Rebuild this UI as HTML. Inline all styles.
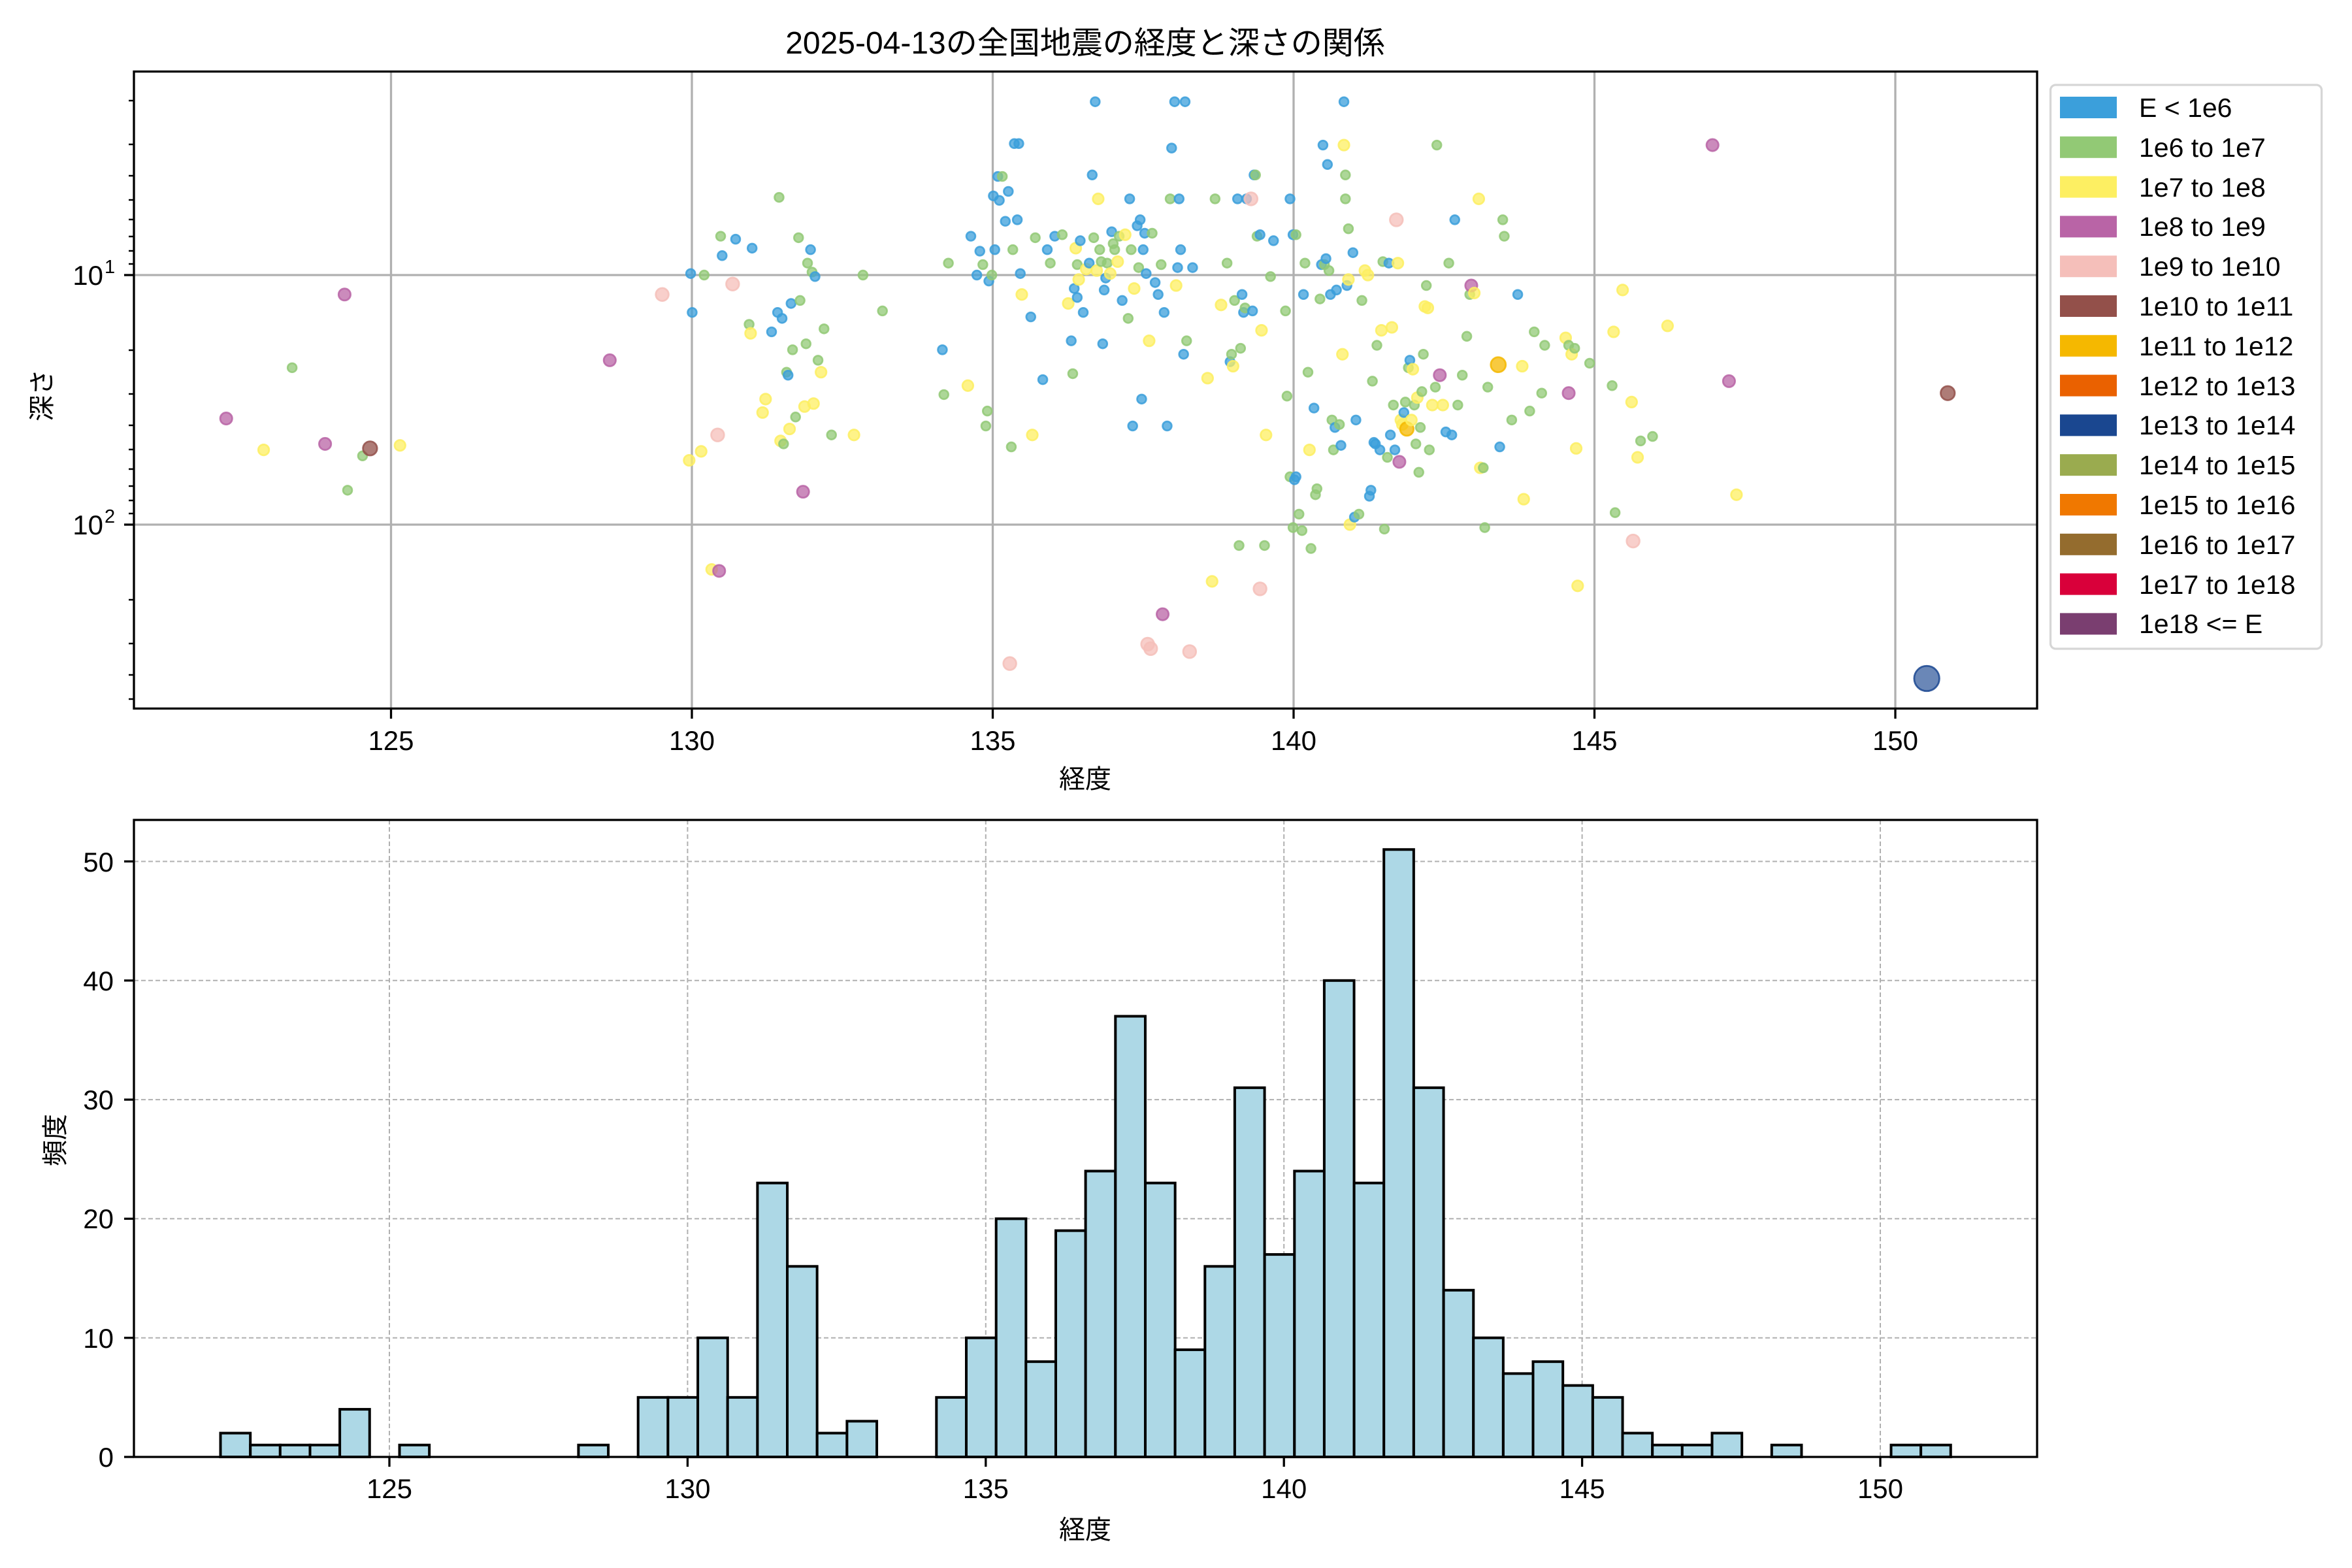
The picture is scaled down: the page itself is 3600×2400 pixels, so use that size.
<!DOCTYPE html>
<html><head><meta charset="utf-8"><style>
html,body{margin:0;padding:0;background:#fff;}
svg{display:block;}
text{font-family:"Liberation Sans","Noto Sans CJK JP",sans-serif;fill:#000;}
.b{fill:#3B9FDB;stroke:#3B9FDB}.g{fill:#92C975;stroke:#92C975}.y{fill:#FDEF62;stroke:#FDEF62}
.p{fill:#B964A6;stroke:#B964A6}.k{fill:#F5BFBA;stroke:#F5BFBA}.r{fill:#93504A;stroke:#93504A}
.a{fill:#F5B800;stroke:#F5B800}.n{fill:#1A4790;stroke:#1A4790}
</style></head><body>
<svg width="3600" height="2400" viewBox="0 0 3600 2400" xmlns="http://www.w3.org/2000/svg">
<rect width="3600" height="2400" fill="#fff"/>
<text x="1661" y="82" font-size="48" text-anchor="middle">2025-04-13の全国地震の経度と深さの関係</text>
<g stroke="#b0b0b0" stroke-width="3.3">
<line x1="598.5" y1="109" x2="598.5" y2="1085"/><line x1="1059" y1="109" x2="1059" y2="1085"/>
<line x1="1519.5" y1="109" x2="1519.5" y2="1085"/><line x1="1980" y1="109" x2="1980" y2="1085"/>
<line x1="2440.5" y1="109" x2="2440.5" y2="1085"/><line x1="2901" y1="109" x2="2901" y2="1085"/>
<line x1="205" y1="421" x2="3118" y2="421"/><line x1="205" y1="803" x2="3118" y2="803"/>
</g>
<g transform="matrix(2.2933 0 0 2.287 2.24 2.5)" fill-opacity="0.75" stroke-opacity="0.85" stroke-width="1.2">
<circle class="p" cx="150" cy="279" r="4"/><circle class="y" cx="175" cy="300" r="3.6"/><circle class="g" cx="194" cy="245" r="3"/>
<circle class="p" cx="216" cy="296" r="4"/><circle class="p" cx="229" cy="196" r="4"/><circle class="g" cx="231" cy="327" r="3"/>
<circle class="g" cx="241" cy="304" r="3"/><circle class="r" cx="246" cy="299" r="4.7"/><circle class="y" cx="266" cy="297" r="3.6"/>
<circle class="p" cx="406" cy="240" r="4"/><circle class="k" cx="441" cy="196" r="4.3"/><circle class="y" cx="459" cy="307" r="3.6"/>
<circle class="b" cx="460" cy="182" r="3"/><circle class="b" cx="461" cy="208" r="3"/><circle class="y" cx="467" cy="301" r="3.6"/>
<circle class="g" cx="469" cy="183" r="3"/><circle class="y" cx="474" cy="380" r="3.6"/><circle class="k" cx="478" cy="290" r="4.3"/>
<circle class="p" cx="479" cy="381" r="4"/><circle class="g" cx="480" cy="157" r="3"/><circle class="b" cx="481" cy="170" r="3"/>
<circle class="k" cx="488" cy="189" r="4.3"/><circle class="b" cx="490" cy="159" r="3"/><circle class="g" cx="499" cy="216" r="3"/>
<circle class="y" cx="500" cy="222" r="3.6"/><circle class="b" cx="501" cy="165" r="3"/><circle class="y" cx="508" cy="275" r="3.6"/>
<circle class="y" cx="510" cy="266" r="3.6"/><circle class="b" cx="514" cy="221" r="3"/><circle class="b" cx="518" cy="208" r="3"/>
<circle class="g" cx="519" cy="131" r="3"/><circle class="y" cx="520" cy="294" r="3.6"/><circle class="b" cx="521" cy="212" r="3"/>
<circle class="g" cx="522" cy="296" r="3"/><circle class="g" cx="524" cy="248" r="3"/><circle class="b" cx="525" cy="250" r="3"/>
<circle class="y" cx="526" cy="286" r="3.6"/><circle class="b" cx="527" cy="202" r="3"/><circle class="g" cx="528" cy="233" r="3"/>
<circle class="g" cx="530" cy="278" r="3"/><circle class="g" cx="532" cy="158" r="3"/><circle class="g" cx="533" cy="200" r="3"/>
<circle class="p" cx="535" cy="328" r="4"/><circle class="y" cx="536" cy="271" r="3.6"/><circle class="g" cx="537" cy="229" r="3"/>
<circle class="g" cx="538" cy="175" r="3"/><circle class="b" cx="540" cy="166" r="3"/><circle class="g" cx="541" cy="181" r="3"/>
<circle class="y" cx="542" cy="269" r="3.6"/><circle class="b" cx="543" cy="184" r="3"/><circle class="g" cx="545" cy="240" r="3"/>
<circle class="y" cx="547" cy="248" r="3.6"/><circle class="g" cx="549" cy="219" r="3"/><circle class="g" cx="554" cy="290" r="3"/>
<circle class="y" cx="569" cy="290" r="3.6"/><circle class="g" cx="575" cy="183" r="3"/><circle class="g" cx="588" cy="207" r="3"/>
<circle class="b" cx="628" cy="233" r="3"/><circle class="g" cx="629" cy="263" r="3"/><circle class="g" cx="632" cy="175" r="3"/>
<circle class="y" cx="645" cy="257" r="3.6"/><circle class="b" cx="647" cy="157" r="3"/><circle class="b" cx="651" cy="183" r="3"/>
<circle class="b" cx="653" cy="167" r="3"/><circle class="g" cx="655" cy="176" r="3"/><circle class="g" cx="657" cy="284" r="3"/>
<circle class="g" cx="658" cy="274" r="3"/><circle class="b" cx="659" cy="187" r="3"/><circle class="g" cx="661" cy="183" r="3"/>
<circle class="b" cx="662" cy="130" r="3"/><circle class="b" cx="663" cy="166" r="3"/><circle class="b" cx="665" cy="117" r="3"/>
<circle class="b" cx="666" cy="133" r="3"/><circle class="g" cx="668" cy="117" r="3"/><circle class="b" cx="670" cy="147" r="3"/>
<circle class="b" cx="672" cy="127" r="3"/><circle class="k" cx="673" cy="443" r="4.3"/><circle class="g" cx="674" cy="298" r="3"/>
<circle class="g" cx="675" cy="166" r="3"/><circle class="b" cx="676" cy="95" r="3"/><circle class="b" cx="678" cy="146" r="3"/>
<circle class="b" cx="679" cy="95" r="3"/><circle class="b" cx="680" cy="182" r="3"/><circle class="y" cx="681" cy="196" r="3.6"/>
<circle class="b" cx="687" cy="211" r="3"/><circle class="y" cx="688" cy="290" r="3.6"/><circle class="g" cx="690" cy="158" r="3"/>
<circle class="b" cx="695" cy="253" r="3"/><circle class="b" cx="698" cy="166" r="3"/><circle class="g" cx="700" cy="175" r="3"/>
<circle class="b" cx="703" cy="157" r="3"/><circle class="g" cx="708" cy="156" r="3"/><circle class="y" cx="712" cy="202" r="3.6"/>
<circle class="b" cx="714" cy="227" r="3"/><circle class="g" cx="715" cy="249" r="3"/><circle class="b" cx="716" cy="192" r="3"/>
<circle class="y" cx="717" cy="165" r="3.6"/><circle class="g" cx="718" cy="176" r="3"/><circle class="b" cx="718" cy="198" r="3"/>
<circle class="y" cx="719" cy="186" r="3.6"/><circle class="b" cx="720" cy="160" r="3"/><circle class="b" cx="722" cy="208" r="3"/>
<circle class="y" cx="724" cy="179" r="3.6"/><circle class="b" cx="726" cy="175" r="3"/><circle class="b" cx="728" cy="116" r="3"/>
<circle class="g" cx="729" cy="158" r="3"/><circle class="b" cx="730" cy="67" r="3"/><circle class="y" cx="731" cy="180" r="3.6"/>
<circle class="y" cx="732" cy="132" r="3.6"/><circle class="g" cx="733" cy="166" r="3"/><circle class="g" cx="734" cy="174" r="3"/>
<circle class="b" cx="735" cy="229" r="3"/><circle class="b" cx="736" cy="193" r="3"/><circle class="b" cx="737" cy="185" r="3"/>
<circle class="g" cx="738" cy="175" r="3"/><circle class="y" cx="740" cy="182" r="3.6"/><circle class="b" cx="741" cy="154" r="3"/>
<circle class="g" cx="742" cy="162" r="3"/><circle class="g" cx="743" cy="166" r="3"/><circle class="y" cx="745" cy="174" r="3.6"/>
<circle class="g" cx="746" cy="157" r="3"/><circle class="b" cx="748" cy="200" r="3"/><circle class="y" cx="750" cy="156" r="3.6"/>
<circle class="g" cx="752" cy="212" r="3"/><circle class="b" cx="753" cy="132" r="3"/><circle class="g" cx="754" cy="166" r="3"/>
<circle class="b" cx="755" cy="284" r="3"/><circle class="y" cx="756" cy="192" r="3.6"/><circle class="b" cx="758" cy="150" r="3"/>
<circle class="g" cx="759" cy="178" r="3"/><circle class="b" cx="760" cy="146" r="3"/><circle class="b" cx="761" cy="266" r="3"/>
<circle class="b" cx="762" cy="166" r="3"/><circle class="b" cx="763" cy="155" r="3"/><circle class="b" cx="764" cy="182" r="3"/>
<circle class="k" cx="765" cy="430" r="4.3"/><circle class="y" cx="766" cy="227" r="3.6"/><circle class="k" cx="767" cy="433" r="4.3"/>
<circle class="g" cx="768" cy="155" r="3"/><circle class="b" cx="770" cy="188" r="3"/><circle class="b" cx="772" cy="196" r="3"/>
<circle class="g" cx="774" cy="176" r="3"/><circle class="p" cx="775" cy="410" r="4"/><circle class="b" cx="776" cy="208" r="3"/>
<circle class="b" cx="778" cy="284" r="3"/><circle class="g" cx="780" cy="132" r="3"/><circle class="b" cx="781" cy="98" r="3"/>
<circle class="b" cx="783" cy="67" r="3"/><circle class="y" cx="784" cy="190" r="3.6"/><circle class="b" cx="785" cy="178" r="3"/>
<circle class="b" cx="786" cy="132" r="3"/><circle class="b" cx="787" cy="166" r="3"/><circle class="b" cx="789" cy="236" r="3"/>
<circle class="b" cx="790" cy="67" r="3"/><circle class="g" cx="791" cy="227" r="3"/><circle class="k" cx="793" cy="435" r="4.3"/>
<circle class="b" cx="795" cy="178" r="3"/><circle class="y" cx="805" cy="252" r="3.6"/><circle class="y" cx="808" cy="388" r="3.6"/>
<circle class="g" cx="810" cy="132" r="3"/><circle class="y" cx="814" cy="203" r="3.6"/><circle class="g" cx="818" cy="175" r="3"/>
<circle class="b" cx="820" cy="241" r="3"/><circle class="g" cx="821" cy="236" r="3"/><circle class="y" cx="822" cy="244" r="3.6"/>
<circle class="g" cx="823" cy="200" r="3"/><circle class="b" cx="825" cy="132" r="3"/><circle class="g" cx="826" cy="364" r="3"/>
<circle class="g" cx="827" cy="232" r="3"/><circle class="b" cx="828" cy="196" r="3"/><circle class="b" cx="829" cy="208" r="3"/>
<circle class="g" cx="830" cy="205" r="3"/><circle class="b" cx="831" cy="132" r="3"/><circle class="k" cx="834" cy="132" r="4.3"/>
<circle class="b" cx="835" cy="207" r="3"/><circle class="b" cx="836" cy="116" r="3"/><circle class="g" cx="837" cy="116" r="3"/>
<circle class="g" cx="838" cy="157" r="3"/><circle class="b" cx="840" cy="156" r="3"/><circle class="y" cx="841" cy="220" r="3.6"/>
<circle class="g" cx="843" cy="364" r="3"/><circle class="y" cx="844" cy="290" r="3.6"/><circle class="k" cx="840" cy="393" r="4.3"/>
<circle class="g" cx="847" cy="184" r="3"/><circle class="b" cx="849" cy="160" r="3"/><circle class="b" cx="860" cy="132" r="3"/>
<circle class="b" cx="862" cy="156" r="3"/><circle class="g" cx="864" cy="156" r="3"/><circle class="g" cx="857" cy="207" r="3"/>
<circle class="g" cx="858" cy="264" r="3"/><circle class="g" cx="860" cy="318" r="3"/>
<circle class="g" cx="862" cy="352" r="3"/><circle class="b" cx="863" cy="320" r="3"/><circle class="b" cx="864" cy="318" r="3"/>
<circle class="g" cx="866" cy="343" r="3"/><circle class="g" cx="868" cy="354" r="3"/><circle class="b" cx="869" cy="196" r="3"/>
<circle class="g" cx="870" cy="175" r="3"/><circle class="g" cx="872" cy="248" r="3"/><circle class="y" cx="873" cy="300" r="3.6"/>
<circle class="g" cx="874" cy="366" r="3"/><circle class="b" cx="876" cy="272" r="3"/><circle class="g" cx="877" cy="330" r="3"/>
<circle class="g" cx="878" cy="326" r="3"/><circle class="g" cx="880" cy="199" r="3"/><circle class="b" cx="881" cy="176" r="3"/>
<circle class="b" cx="882" cy="96" r="3"/><circle class="g" cx="883" cy="176" r="3"/><circle class="b" cx="884" cy="172" r="3"/>
<circle class="b" cx="885" cy="109" r="3"/><circle class="g" cx="886" cy="180" r="3"/><circle class="b" cx="887" cy="196" r="3"/>
<circle class="g" cx="888" cy="280" r="3"/><circle class="g" cx="889" cy="300" r="3"/><circle class="b" cx="890" cy="285" r="3"/>
<circle class="b" cx="891" cy="193" r="3"/><circle class="g" cx="893" cy="283" r="3"/><circle class="b" cx="894" cy="297" r="3"/>
<circle class="y" cx="895" cy="236" r="3.6"/><circle class="b" cx="896" cy="67" r="3"/><circle class="y" cx="896" cy="96" r="3.6"/>
<circle class="g" cx="897" cy="132" r="3"/><circle class="g" cx="897" cy="116" r="3"/><circle class="b" cx="898" cy="190" r="3"/>
<circle class="g" cx="899" cy="152" r="3"/><circle class="y" cx="899" cy="186" r="3.6"/><circle class="y" cx="900" cy="350" r="3.6"/>
<circle class="b" cx="902" cy="168" r="3"/><circle class="b" cx="903" cy="345" r="3"/><circle class="b" cx="904" cy="280" r="3"/>
<circle class="g" cx="906" cy="343" r="3"/><circle class="g" cx="908" cy="200" r="3"/><circle class="y" cx="910" cy="180" r="3.6"/>
<circle class="y" cx="912" cy="183" r="3.6"/><circle class="b" cx="913" cy="331" r="3"/><circle class="b" cx="914" cy="327" r="3"/>
<circle class="g" cx="915" cy="254" r="3"/><circle class="b" cx="916" cy="295" r="3"/><circle class="b" cx="917" cy="296" r="3"/>
<circle class="g" cx="918" cy="230" r="3"/><circle class="b" cx="920" cy="300" r="3"/><circle class="y" cx="921" cy="220" r="3.6"/>
<circle class="g" cx="922" cy="174" r="3"/><circle class="g" cx="923" cy="353" r="3"/><circle class="g" cx="925" cy="305" r="3"/>
<circle class="b" cx="926" cy="175" r="3"/><circle class="b" cx="927" cy="290" r="3"/><circle class="y" cx="928" cy="218" r="3.6"/>
<circle class="g" cx="929" cy="270" r="3"/><circle class="b" cx="930" cy="300" r="3"/><circle class="k" cx="931" cy="146" r="4.3"/>
<circle class="y" cx="932" cy="175" r="3.6"/><circle class="p" cx="933" cy="308" r="4"/><circle class="y" cx="934" cy="280" r="3.6"/>
<circle class="y" cx="935" cy="283" r="3.6"/><circle class="b" cx="936" cy="275" r="3"/><circle class="g" cx="937" cy="268" r="3"/>
<circle class="a" cx="938" cy="286" r="4.5"/><circle class="g" cx="939" cy="245" r="3"/><circle class="b" cx="940" cy="240" r="3"/>
<circle class="y" cx="941" cy="280" r="3.6"/><circle class="y" cx="942" cy="246" r="3.6"/><circle class="g" cx="943" cy="270" r="3"/>
<circle class="g" cx="944" cy="296" r="3"/><circle class="y" cx="945" cy="265" r="3.6"/><circle class="g" cx="946" cy="315" r="3"/>
<circle class="g" cx="947" cy="285" r="3"/><circle class="g" cx="948" cy="261" r="3"/><circle class="g" cx="949" cy="236" r="3"/>
<circle class="y" cx="950" cy="204" r="3.6"/><circle class="g" cx="951" cy="190" r="3"/><circle class="y" cx="952" cy="205" r="3.6"/>
<circle class="g" cx="953" cy="300" r="3"/><circle class="y" cx="955" cy="270" r="3.6"/><circle class="g" cx="957" cy="258" r="3"/>
<circle class="g" cx="958" cy="96" r="3"/><circle class="p" cx="960" cy="250" r="4"/><circle class="y" cx="962" cy="270" r="3.6"/>
<circle class="b" cx="964" cy="288" r="3"/><circle class="g" cx="966" cy="175" r="3"/><circle class="b" cx="968" cy="290" r="3"/>
<circle class="b" cx="970" cy="146" r="3"/><circle class="g" cx="972" cy="270" r="3"/><circle class="g" cx="975" cy="250" r="3"/>
<circle class="g" cx="978" cy="224" r="3"/><circle class="g" cx="980" cy="196" r="3"/><circle class="p" cx="981" cy="190" r="4"/>
<circle class="y" cx="983" cy="195" r="3.6"/><circle class="y" cx="986" cy="132" r="3.6"/><circle class="y" cx="987" cy="312" r="3.6"/>
<circle class="g" cx="989" cy="312" r="3"/><circle class="g" cx="990" cy="352" r="3"/><circle class="g" cx="992" cy="258" r="3"/>
<circle class="a" cx="999" cy="243" r="5"/><circle class="b" cx="1000" cy="298" r="3"/><circle class="g" cx="1002" cy="146" r="3"/>
<circle class="g" cx="1003" cy="157" r="3"/><circle class="g" cx="1008" cy="280" r="3"/><circle class="b" cx="1012" cy="196" r="3"/>
<circle class="y" cx="1015" cy="244" r="3.6"/><circle class="y" cx="1016" cy="333" r="3.6"/><circle class="g" cx="1020" cy="274" r="3"/>
<circle class="g" cx="1023" cy="221" r="3"/><circle class="g" cx="1028" cy="262" r="3"/><circle class="g" cx="1030" cy="230" r="3"/>
<circle class="p" cx="1046" cy="262" r="4"/><circle class="y" cx="1044" cy="225" r="3.6"/><circle class="g" cx="1046" cy="230" r="3"/>
<circle class="y" cx="1048" cy="236" r="3.6"/><circle class="g" cx="1050" cy="232" r="3"/><circle class="y" cx="1051" cy="299" r="3.6"/>
<circle class="y" cx="1052" cy="391" r="3.6"/><circle class="g" cx="1060" cy="242" r="3"/><circle class="g" cx="1075" cy="257" r="3"/>
<circle class="y" cx="1076" cy="221" r="3.6"/><circle class="g" cx="1077" cy="342" r="3"/><circle class="y" cx="1082" cy="193" r="3.6"/>
<circle class="y" cx="1088" cy="268" r="3.6"/><circle class="k" cx="1089" cy="361" r="4.3"/><circle class="y" cx="1092" cy="305" r="3.6"/>
<circle class="g" cx="1094" cy="294" r="3"/><circle class="g" cx="1102" cy="291" r="3"/><circle class="y" cx="1112" cy="217" r="3.6"/>
<circle class="p" cx="1142" cy="96" r="4"/><circle class="p" cx="1153" cy="254" r="4"/><circle class="y" cx="1158" cy="330" r="3.6"/>
<circle class="r" cx="1299" cy="262" r="4.7"/><circle class="n" cx="1285" cy="453" r="8.4" fill-opacity="0.65"/>
</g>
<rect x="205" y="109.5" width="2913" height="975" fill="none" stroke="#000" stroke-width="3.3"/>
<g stroke="#000" stroke-width="3.3">
<line x1="598.5" y1="1085" x2="598.5" y2="1100"/><line x1="1059" y1="1085" x2="1059" y2="1100"/>
<line x1="1519.5" y1="1085" x2="1519.5" y2="1100"/><line x1="1980" y1="1085" x2="1980" y2="1100"/>
<line x1="2440.5" y1="1085" x2="2440.5" y2="1100"/><line x1="2901" y1="1085" x2="2901" y2="1100"/>
<line x1="190" y1="421" x2="205" y2="421"/><line x1="190" y1="803" x2="205" y2="803"/>
</g>
<g stroke="#000" stroke-width="2.5">
<line x1="197" y1="154" x2="205" y2="154"/><line x1="197" y1="221" x2="205" y2="221"/><line x1="197" y1="269" x2="205" y2="269"/>
<line x1="197" y1="306" x2="205" y2="306"/><line x1="197" y1="336" x2="205" y2="336"/><line x1="197" y1="362" x2="205" y2="362"/>
<line x1="197" y1="384" x2="205" y2="384"/><line x1="197" y1="404" x2="205" y2="404"/>
<line x1="197" y1="536" x2="205" y2="536"/><line x1="197" y1="603" x2="205" y2="603"/><line x1="197" y1="651" x2="205" y2="651"/>
<line x1="197" y1="688" x2="205" y2="688"/><line x1="197" y1="718" x2="205" y2="718"/><line x1="197" y1="744" x2="205" y2="744"/>
<line x1="197" y1="766" x2="205" y2="766"/><line x1="197" y1="786" x2="205" y2="786"/>
<line x1="197" y1="918" x2="205" y2="918"/><line x1="197" y1="985" x2="205" y2="985"/><line x1="197" y1="1033" x2="205" y2="1033"/>
<line x1="197" y1="1070" x2="205" y2="1070"/>
</g>
<g font-size="42" text-anchor="middle">
<text x="598.5" y="1148">125</text><text x="1059" y="1148">130</text><text x="1519.5" y="1148">135</text>
<text x="1980" y="1148">140</text><text x="2440.5" y="1148">145</text><text x="2901" y="1148">150</text>
</g>
<text x="158" y="436" font-size="42" text-anchor="end">10</text><text x="160" y="418" font-size="29">1</text>
<text x="158" y="818" font-size="42" text-anchor="end">10</text><text x="160" y="800" font-size="29">2</text>
<text x="1661" y="1206" font-size="40" text-anchor="middle">経度</text>
<text transform="translate(78,605) rotate(-90)" font-size="40" text-anchor="middle">深さ</text>
<rect x="3138.5" y="130" width="415" height="863" rx="8" fill="#fff" stroke="#d6d6d6" stroke-width="3.3"/>
<rect x="3153" y="148" width="87" height="33" fill="#3B9FDB"/>
<rect x="3153" y="208.8" width="87" height="33" fill="#92C975"/>
<rect x="3153" y="269.6" width="87" height="33" fill="#FDEF62"/>
<rect x="3153" y="330.4" width="87" height="33" fill="#B964A6"/>
<rect x="3153" y="391.2" width="87" height="33" fill="#F5BFBA"/>
<rect x="3153" y="452" width="87" height="33" fill="#93504A"/>
<rect x="3153" y="512.8" width="87" height="33" fill="#F5B800"/>
<rect x="3153" y="573.6" width="87" height="33" fill="#EA6100"/>
<rect x="3153" y="634.4" width="87" height="33" fill="#1A4790"/>
<rect x="3153" y="695.2" width="87" height="33" fill="#9AAB4F"/>
<rect x="3153" y="756" width="87" height="33" fill="#F07800"/>
<rect x="3153" y="816.8" width="87" height="33" fill="#946C2E"/>
<rect x="3153" y="877.6" width="87" height="33" fill="#D9003A"/>
<rect x="3153" y="938.4" width="87" height="33" fill="#7A3E70"/>
<g font-size="41">
<text x="3274" y="179">E &lt; 1e6</text><text x="3274" y="240">1e6 to 1e7</text><text x="3274" y="301">1e7 to 1e8</text>
<text x="3274" y="361">1e8 to 1e9</text><text x="3274" y="422">1e9 to 1e10</text><text x="3274" y="483">1e10 to 1e11</text>
<text x="3274" y="544">1e11 to 1e12</text><text x="3274" y="605">1e12 to 1e13</text><text x="3274" y="665">1e13 to 1e14</text>
<text x="3274" y="726">1e14 to 1e15</text><text x="3274" y="787">1e15 to 1e16</text><text x="3274" y="848">1e16 to 1e17</text>
<text x="3274" y="909">1e17 to 1e18</text><text x="3274" y="969">1e18 &lt;= E</text>
</g>
<g stroke="#b0b0b0" stroke-width="2" stroke-dasharray="7,4">
<line x1="596" y1="1255" x2="596" y2="2230"/><line x1="1052.4" y1="1255" x2="1052.4" y2="2230"/>
<line x1="1508.8" y1="1255" x2="1508.8" y2="2230"/><line x1="1965.2" y1="1255" x2="1965.2" y2="2230"/>
<line x1="2421.6" y1="1255" x2="2421.6" y2="2230"/><line x1="2878" y1="1255" x2="2878" y2="2230"/>
<line x1="205" y1="2047.7" x2="3118" y2="2047.7"/><line x1="205" y1="1865.4" x2="3118" y2="1865.4"/>
<line x1="205" y1="1683.1" x2="3118" y2="1683.1"/><line x1="205" y1="1500.8" x2="3118" y2="1500.8"/>
<line x1="205" y1="1318.5" x2="3118" y2="1318.5"/>
</g>
<g transform="translate(0,2230) scale(1,-1)" fill="#ADD8E6" stroke="#000" stroke-width="4">
<rect x="337.5" y="0" width="45.66" height="36.46"/>
<rect x="383.2" y="0" width="45.66" height="18.23"/>
<rect x="428.8" y="0" width="45.66" height="18.23"/>
<rect x="474.5" y="0" width="45.66" height="18.23"/>
<rect x="520.1" y="0" width="45.66" height="72.92"/>
<rect x="611.5" y="0" width="45.66" height="18.23"/>
<rect x="885.4" y="0" width="45.66" height="18.23"/>
<rect x="976.7" y="0" width="45.66" height="91.15"/>
<rect x="1022.4" y="0" width="45.66" height="91.15"/>
<rect x="1068.1" y="0" width="45.66" height="182.3"/>
<rect x="1113.7" y="0" width="45.66" height="91.15"/>
<rect x="1159.4" y="0" width="45.66" height="419.29"/>
<rect x="1205.0" y="0" width="45.66" height="291.68"/>
<rect x="1250.7" y="0" width="45.66" height="36.46"/>
<rect x="1296.4" y="0" width="45.66" height="54.69"/>
<rect x="1433.3" y="0" width="45.66" height="91.15"/>
<rect x="1479.0" y="0" width="45.66" height="182.3"/>
<rect x="1524.7" y="0" width="45.66" height="364.6"/>
<rect x="1570.3" y="0" width="45.66" height="145.84"/>
<rect x="1616.0" y="0" width="45.66" height="346.37"/>
<rect x="1661.6" y="0" width="45.66" height="437.52"/>
<rect x="1707.3" y="0" width="45.66" height="674.51"/>
<rect x="1753.0" y="0" width="45.66" height="419.29"/>
<rect x="1798.6" y="0" width="45.66" height="164.07"/>
<rect x="1844.3" y="0" width="45.66" height="291.68"/>
<rect x="1889.9" y="0" width="45.66" height="565.13"/>
<rect x="1935.6" y="0" width="45.66" height="309.91"/>
<rect x="1981.3" y="0" width="45.66" height="437.52"/>
<rect x="2026.9" y="0" width="45.66" height="729.2"/>
<rect x="2072.6" y="0" width="45.66" height="419.29"/>
<rect x="2118.2" y="0" width="45.66" height="929.73"/>
<rect x="2163.9" y="0" width="45.66" height="565.13"/>
<rect x="2209.6" y="0" width="45.66" height="255.22"/>
<rect x="2255.2" y="0" width="45.66" height="182.3"/>
<rect x="2300.9" y="0" width="45.66" height="127.61"/>
<rect x="2346.5" y="0" width="45.66" height="145.84"/>
<rect x="2392.2" y="0" width="45.66" height="109.38"/>
<rect x="2437.9" y="0" width="45.66" height="91.15"/>
<rect x="2483.5" y="0" width="45.66" height="36.46"/>
<rect x="2529.2" y="0" width="45.66" height="18.23"/>
<rect x="2574.8" y="0" width="45.66" height="18.23"/>
<rect x="2620.5" y="0" width="45.66" height="36.46"/>
<rect x="2711.8" y="0" width="45.66" height="18.23"/>
<rect x="2894.5" y="0" width="45.66" height="18.23"/>
<rect x="2940.1" y="0" width="45.66" height="18.23"/>
</g>
<rect x="205" y="1255" width="2913" height="975" fill="none" stroke="#000" stroke-width="3.3"/>
<g stroke="#000" stroke-width="3.3">
<line x1="596" y1="2230" x2="596" y2="2245"/><line x1="1052.4" y1="2230" x2="1052.4" y2="2245"/>
<line x1="1508.8" y1="2230" x2="1508.8" y2="2245"/><line x1="1965.2" y1="2230" x2="1965.2" y2="2245"/>
<line x1="2421.6" y1="2230" x2="2421.6" y2="2245"/><line x1="2878" y1="2230" x2="2878" y2="2245"/>
<line x1="190" y1="2230" x2="205" y2="2230"/><line x1="190" y1="2047.7" x2="205" y2="2047.7"/>
<line x1="190" y1="1865.4" x2="205" y2="1865.4"/><line x1="190" y1="1683.1" x2="205" y2="1683.1"/>
<line x1="190" y1="1500.8" x2="205" y2="1500.8"/><line x1="190" y1="1318.5" x2="205" y2="1318.5"/>
</g>
<g font-size="42" text-anchor="middle">
<text x="596" y="2293">125</text><text x="1052.4" y="2293">130</text><text x="1508.8" y="2293">135</text>
<text x="1965.2" y="2293">140</text><text x="2421.6" y="2293">145</text><text x="2878" y="2293">150</text>
</g>
<g font-size="42" text-anchor="end">
<text x="174" y="2245">0</text><text x="174" y="2063">10</text><text x="174" y="1880">20</text>
<text x="174" y="1698">30</text><text x="174" y="1516">40</text><text x="174" y="1334">50</text>
</g>
<text x="1661" y="2355" font-size="40" text-anchor="middle">経度</text>
<text transform="translate(98,1745) rotate(-90)" font-size="40" text-anchor="middle">頻度</text>
</svg>
</body></html>
